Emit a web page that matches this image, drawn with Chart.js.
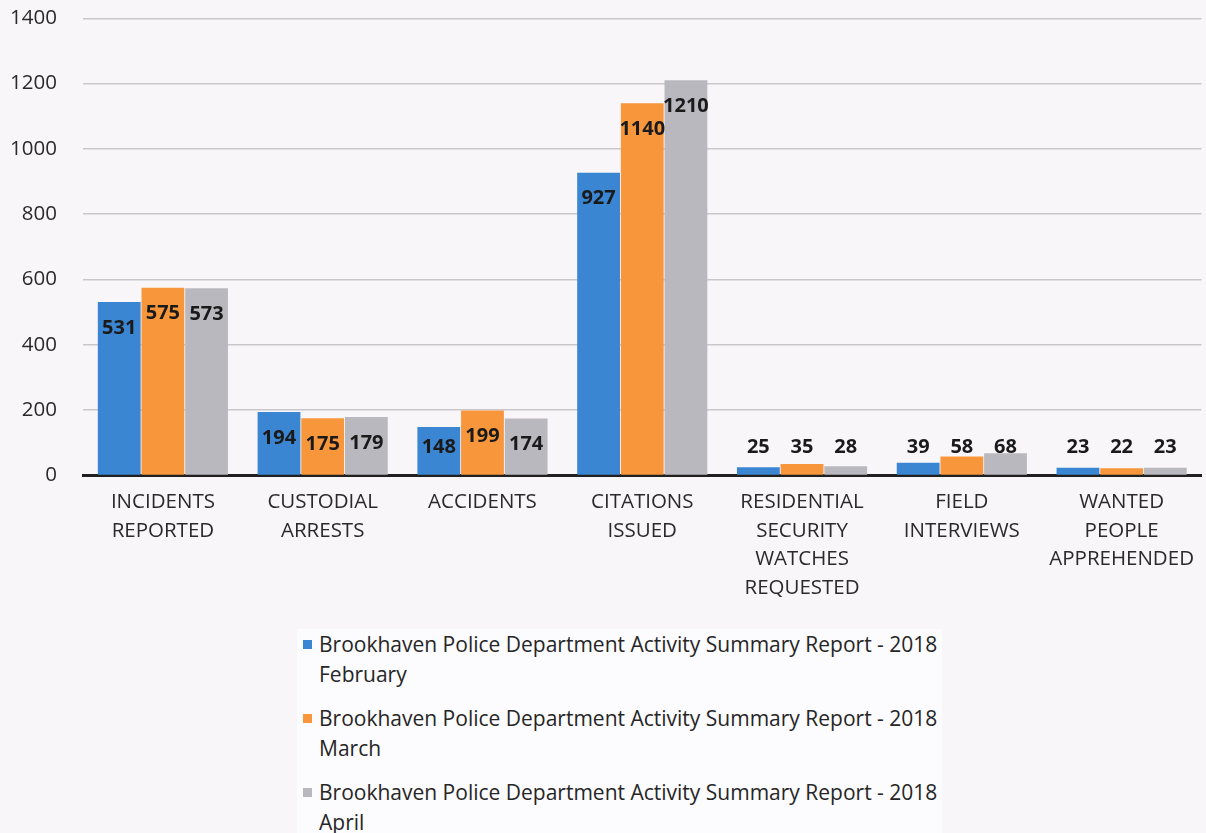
<!DOCTYPE html>
<html>
<head>
<meta charset="utf-8">
<script src="https://cdn.jsdelivr.net/npm/chart.js@4"></script>
<style>
  html, body { margin: 0; padding: 0; background: #f8f6f9; }
  body { width: 1206px; height: 833px; position: relative; overflow: hidden; font-family: "Open Sans", sans-serif; }
  #wrap { position: absolute; left: 0; top: -20px; width: 1206px; height: 635px; }
  #legend { position: absolute; left: 297px; top: 629px; width: 645px; height: 204px; background: #fcfbfd; }
  .item { display: flex; align-items: flex-start; margin-bottom: 14px; color: #262626; font-size: 21px; line-height: 30px; }
  .sw { width: 9px; height: 9px; margin: 11px 7px 0 6px; flex: none; }
</style>
</head>
<body>
<div id="wrap"><canvas id="chart"></canvas></div>
<div id="legend"></div>
<script>
// ─── Data ─────────────────────────────────────────────────────────────────────
const categories = [
  ["INCIDENTS", "REPORTED"],
  ["CUSTODIAL", "ARRESTS"],
  ["ACCIDENTS"],
  ["CITATIONS", "ISSUED"],
  ["RESIDENTIAL", "SECURITY", "WATCHES", "REQUESTED"],
  ["FIELD", "INTERVIEWS"],
  ["WANTED", "PEOPLE", "APPREHENDED"]
];
const seriesNames = [
  "Brookhaven Police Department Activity Summary Report - 2018 February",
  "Brookhaven Police Department Activity Summary Report - 2018 March",
  "Brookhaven Police Department Activity Summary Report - 2018 April"
];
const february = [531, 194, 148, 927, 25, 39, 23];
const march    = [575, 175, 199, 1140, 35, 58, 22];
const april    = [573, 179, 174, 1210, 28, 68, 23];
const yTicks   = [0, 200, 400, 600, 800, 1000, 1200, 1400];

const colors = ["#3b86d3", "#f7963b", "#b9b8bf"];
const seriesData = [february, march, april];

// ─── Data labels: inside near top, pushed above for short bars ───────────────
const valueLabels = {
  id: "valueLabels",
  afterDatasetsDraw(chart) {
    const ctx = chart.ctx;
    const base = chart.scales.y.getPixelForValue(0);
    ctx.save();
    ctx.font = "bold 20px 'Open Sans', sans-serif";
    ctx.fillStyle = "#1a1a1a";
    ctx.textAlign = "center";
    ctx.textBaseline = "middle";
    chart.data.datasets.forEach((ds, i) => {
      chart.getDatasetMeta(i).data.forEach((bar, j) => {
        const y = Math.min(bar.y + 26, base - 28);
        ctx.fillText(String(ds.data[j]), bar.x, y);
      });
    });
    ctx.restore();
  }
};

new Chart(document.getElementById("chart"), {
  type: "bar",
  data: {
    labels: categories,
    datasets: seriesData.map((d, i) => ({
      label: seriesNames[i],
      data: d,
      backgroundColor: colors[i],
      borderWidth: 0,
      categoryPercentage: 0.82,
      barPercentage: 0.98
    }))
  },
  options: {
    responsive: true,
    maintainAspectRatio: false,
    animation: false,
    layout: { padding: { top: 0, right: 0, left: 0, bottom: 0 } },
    plugins: {
      legend: { display: false },
      tooltip: { enabled: false }
    },
    scales: {
      x: {
        grid: { display: false, drawTicks: false },
        border: { display: true, color: "#202020", width: 3 },
        ticks: {
          color: "#2a2a2a",
          font: { family: "'Open Sans', sans-serif", size: 20.5, lineHeight: 1.41 },
          padding: 12,
          maxRotation: 0,
          autoSkip: false
        }
      },
      y: {
        min: 0,
        max: 1400,
        afterBuildTicks: axis => { axis.ticks = yTicks.map(v => ({ value: v })); },
        afterFit: axis => { axis.width = 83; },
        grid: { color: "#c9c7cb", lineWidth: 1.5, drawTicks: false },
        border: { display: false },
        ticks: {
          color: "#2a2a2a",
          font: { family: "'Open Sans', sans-serif", size: 20.5 },
          padding: 26,
          callback: v => String(v)
        }
      }
    }
  },
  plugins: [valueLabels]
});

// ─── Legend ───────────────────────────────────────────────────────────────────
document.getElementById("legend").innerHTML = seriesNames.map((name, i) =>
  `<div class="item"><span class="sw" style="background:${colors[i]}"></span><span>${name}</span></div>`
).join("");
</script>
</body>
</html>
